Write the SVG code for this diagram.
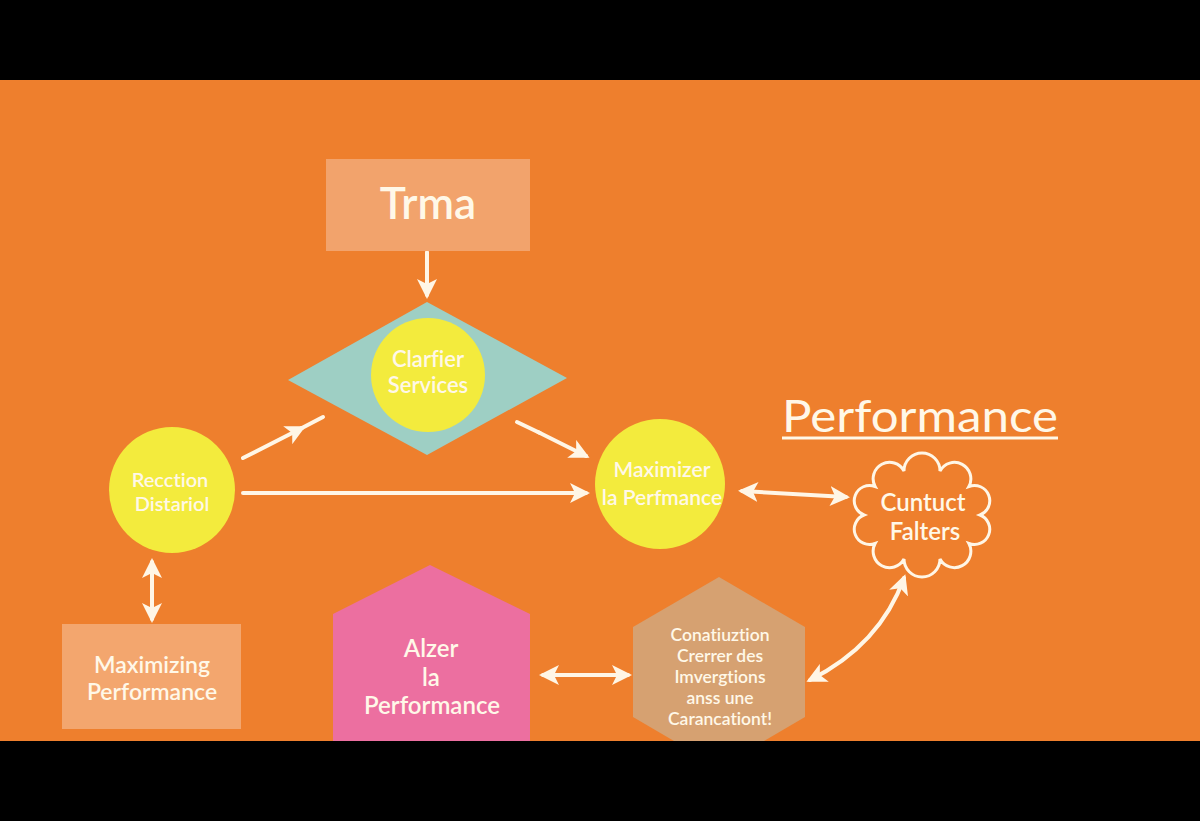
<svg xmlns="http://www.w3.org/2000/svg" width="1200" height="821" viewBox="0 0 1200 821">
<defs>
<style>
.t{font-family:Lato,"Open Sans","Liberation Sans",sans-serif;font-weight:600;fill:#FFF8E8;text-anchor:middle;font-variant-ligatures:none}
.c{stroke:#FFF6E6;stroke-width:4;fill:none;stroke-linecap:round}
</style>
<marker id="ah" viewBox="0 0 10 10" refX="8" refY="5" markerWidth="5" markerHeight="5" orient="auto-start-reverse" markerUnits="strokeWidth">
<path d="M0,0 L10,5 L0,10 L2.5,5 z" fill="#FFF6E6"/>
</marker>
</defs>
<rect x="0" y="0" width="1200" height="821" fill="#000"/>
<rect x="0" y="80" width="1200" height="661" fill="#EE7F2D"/>

<g id="connectors">
<path class="c" d="M427,252 L427,295" marker-end="url(#ah)"/>
<path class="c" d="M243,458 L302,428" marker-end="url(#ah)"/>
<path class="c" d="M300,429 L323,417"/>
<path class="c" d="M517,422 L540,433"/>
<path class="c" d="M538,432 L586,456" marker-end="url(#ah)"/>
<path class="c" d="M243,493 L586,493" marker-end="url(#ah)"/>
<path class="c" d="M742,491 L846,497" marker-start="url(#ah)" marker-end="url(#ah)"/>
<path class="c" d="M152,562 L152,619" marker-start="url(#ah)" marker-end="url(#ah)"/>
<path class="c" d="M543,675 L628,675" marker-start="url(#ah)" marker-end="url(#ah)"/>
<path class="c" d="M810,680 Q880,645 904,578" marker-start="url(#ah)" marker-end="url(#ah)"/>
</g>

<g id="trma">
<rect x="326" y="159" width="204" height="92" fill="#F2A36C"/>
<text class="t" x="428" y="219" font-size="44" font-weight="bold">Trma</text>
</g>

<g id="clarfier">
<polygon points="427,302 567,378 427,455 288,380" fill="#9ECFC4"/>
<circle cx="428" cy="375" r="57" fill="#F3EB3D"/>
<text class="t" x="428" y="367" font-size="22">Clarfier</text>
<text class="t" x="428" y="393" font-size="22">Services</text>
</g>

<g id="recction">
<circle cx="172" cy="490" r="63" fill="#F3EB3D"/>
<text class="t" x="170" y="487" font-size="20">Recction</text>
<text class="t" x="172" y="511" font-size="20">Distariol</text>
</g>

<g id="maximizer">
<circle cx="660" cy="484" r="65" fill="#F3EB3D"/>
<text class="t" x="662" y="477" font-size="21">Maximizer</text>
<text class="t" x="662" y="505" font-size="21">la Perfmance</text>
</g>

<g id="performance-title">
<text x="782" y="432" font-family="Lato,'Open Sans','Liberation Sans',sans-serif" font-size="44" fill="#FFF8E8" textLength="276" lengthAdjust="spacingAndGlyphs">Performance</text>
<line x1="782" y1="438" x2="1058" y2="438" stroke="#FFF8E8" stroke-width="3"/>
</g>

<g id="cuntuct">
<path d="M980,515 A1,1 0 0,1 968.9,543.5 A1,1 0 0,1 940,559 A1,1 0 0,1 904,559 A1,1 0 0,1 875.1,543.5 A1,1 0 0,1 864,515 A1,1 0 0,1 875.1,486.5 A1,1 0 0,1 904,471 A1,1 0 0,1 940,471 A1,1 0 0,1 968.9,486.5 A1,1 0 0,1 980,515 Z" fill="none" stroke="#FFF6E6" stroke-width="3"/>
<text class="t" x="923" y="511" font-size="24">Cuntuct</text>
<text class="t" x="925" y="540" font-size="24">Falters</text>
</g>

<g id="maximizing">
<rect x="62" y="624" width="179" height="105" fill="#F3A66E"/>
<text class="t" x="152" y="673" font-size="23">Maximizing</text>
<text class="t" x="152" y="700" font-size="23">Performance</text>
</g>

<g id="alzer">
<polygon points="430,565 530,614 530,741 333,741 333,614" fill="#EC6FA0"/>
<text class="t" x="431" y="657" font-size="24">Alzer</text>
<text class="t" x="431" y="686" font-size="24">la</text>
<text class="t" x="432" y="714" font-size="24">Performance</text>
</g>

<g id="conatiuztion">
<polygon points="719,577 805,627 805,717 764,741 674,741 633,717 633,627" fill="#D6A171"/>
<text class="t" x="720" y="641" font-size="17.5">Conatiuztion</text>
<text class="t" x="720" y="662" font-size="17.5">Crerrer des</text>
<text class="t" x="720" y="683" font-size="17.5">Imvergtions</text>
<text class="t" x="720" y="704" font-size="17.5">anss une</text>
<text class="t" x="720" y="725" font-size="17.5">Carancationt!</text>
</g>
</svg>
